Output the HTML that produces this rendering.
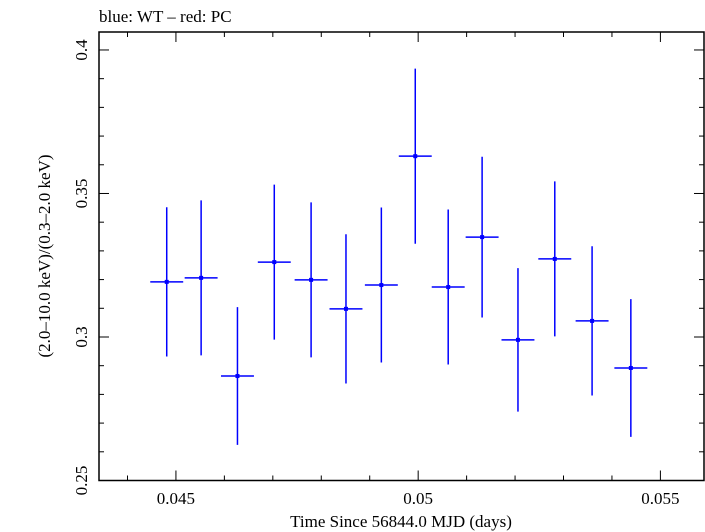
<!DOCTYPE html>
<html><head><meta charset="utf-8">
<style>
html,body{margin:0;padding:0;background:#fff;}
svg{display:block;font-family:"Liberation Serif",serif;}
</style></head>
<body>
<svg id="chart" width="705" height="532" viewBox="0 0 705 532">
<text x="99" y="22" font-size="17">blue: WT – red: PC</text>
<g id="ticks"></g>
<g id="series"></g>
<rect x="99" y="32" width="605" height="448.5" fill="none" stroke="#000" stroke-width="1.5"/>
<text x="401" y="527" font-size="17" text-anchor="middle">Time Since 56844.0 MJD (days)</text>
<text transform="translate(50,256) rotate(-90)" font-size="17" text-anchor="middle">(2.0–10.0 keV)/(0.3–2.0 keV)</text>
</svg>
<script>
const times=[0.04481,0.04552,0.04627,0.04703,0.04779,0.04851,0.04924,0.04994,0.05062,0.05132,0.05206,0.05282,0.05359,0.05439];
const ratios=[0.3192,0.3206,0.2864,0.3261,0.3199,0.3098,0.3181,0.3630,0.3174,0.3348,0.2990,0.3272,0.3056,0.2892];
const ratioErr=[0.026,0.027,0.024,0.027,0.027,0.026,0.027,0.0305,0.027,0.028,0.025,0.027,0.026,0.024];
const timeErr=[0.00034,0.00034,0.00034,0.00034,0.00034,0.00034,0.00034,0.00034,0.00034,0.00034,0.00034,0.00034,0.00034,0.00034];
const xTickLabels=["0.045","0.05","0.055"];
const yTickLabels=["0.25","0.3","0.35","0.4"];
const X0=99,X1=704,Y0=480.5,Y1=32;
const xMin=0.043412,xMax=0.05590,yMin=0.25,yMax=0.40626;
function sx(v){return X0+(v-xMin)/(xMax-xMin)*(X1-X0);}
function sy(v){return Y0-(v-yMin)/(yMax-yMin)*(Y0-Y1);}
const NS="http://www.w3.org/2000/svg";
function mk(tag,attrs,parent){const e=document.createElementNS(NS,tag);for(const k in attrs)e.setAttribute(k,attrs[k]);parent.appendChild(e);return e;}
const tg=document.getElementById('ticks');
// x ticks
for(let i=44;i<=55;i++){const v=i/1000;const x=sx(v);const major=(i%5===0);const L=major?10:5;
 const t1=mk('line',{x1:x,x2:x,y1:Y0,y2:Y0-L,stroke:'#000','stroke-width':1},tg);
 
 
 const t2=mk('line',{x1:x,x2:x,y1:Y1,y2:Y1+L,stroke:'#000','stroke-width':1},tg);
 
 
}
xTickLabels.forEach(s=>{const t=mk('text',{x:sx(parseFloat(s)),y:504,'font-size':17,'text-anchor':'middle'},tg);t.textContent=s;
 
 });
for(let i=25;i<=40;i++){const v=i/100;const y=sy(v);const major=(i%5===0);const L=major?10:5;
 const t1=mk('line',{x1:X0,x2:X0+L,y1:y,y2:y,stroke:'#000','stroke-width':1},tg);
 
 
 const t2=mk('line',{x1:X1,x2:X1-L,y1:y,y2:y,stroke:'#000','stroke-width':1},tg);
 
 
}
yTickLabels.forEach(s=>{const y=sy(parseFloat(s));const t=mk('text',{transform:`translate(87,${y}) rotate(-90)`,'font-size':17,'text-anchor':'middle'},tg);t.textContent=s;
 
 });
const sg=document.getElementById('series');
times.forEach((t,i)=>{const g=mk('g',{},sg);
 
 
 const x=sx(t),y=sy(ratios[i]);
 mk('line',{x1:x,x2:x,y1:sy(ratios[i]+ratioErr[i]),y2:sy(ratios[i]-ratioErr[i]),stroke:'#0000ff','stroke-width':1.5},g);
 mk('line',{x1:sx(t-timeErr[i]),x2:sx(t+timeErr[i]),y1:y,y2:y,stroke:'#0000ff','stroke-width':1.5},g);
 mk('rect',{x:x-2,y:y-2,width:4,height:4,fill:'#0000ff'},g);
});
</script>
</body></html>
